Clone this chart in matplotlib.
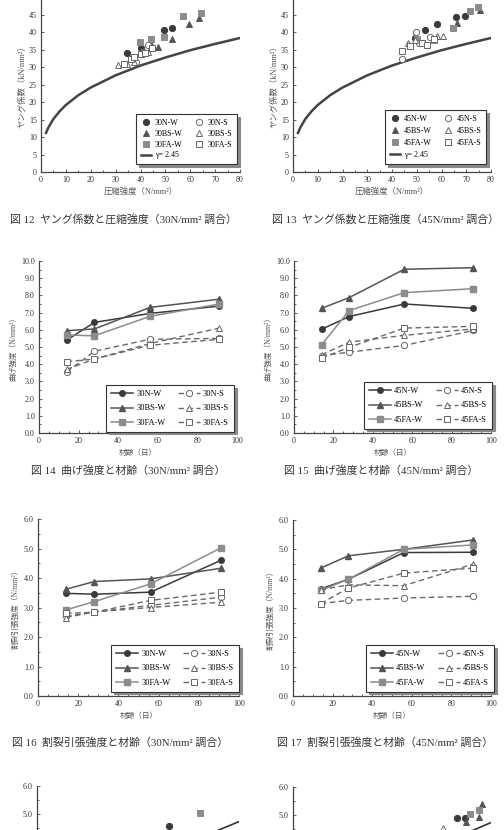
import matplotlib.pyplot as plt
from matplotlib.ticker import MultipleLocator, FormatStrFormatter
from matplotlib.lines import Line2D

plt.rcParams['font.family'] = ['Liberation Serif', 'Noto Sans CJK JP']

# fig 12 / 13 : young's modulus vs compressive strength
curve_fc = [2, 3, 5, 7.5, 10, 15, 20, 30, 40, 50, 60, 70, 80]
curve_E = [11.2, 12.8, 15.2, 17.4, 19.2, 22.0, 24.2, 27.7, 30.5, 32.8, 34.9, 36.7, 38.4]

e30_nw_x = [34.5, 40.0, 49.5, 52.5]
e30_nw_y = [34.0, 35.5, 40.8, 41.4]
e30_bsw_x = [44.0, 47.0, 52.5, 59.3, 63.5]
e30_bsw_y = [37.2, 35.8, 38.2, 42.4, 44.2]
e30_faw_x = [39.7, 44.3, 49.5, 57.0, 64.5]
e30_faw_y = [37.2, 38.2, 38.6, 44.8, 45.6]
e30_ns_x = [38.0, 41.0, 43.0, 44.5]
e30_ns_y = [31.5, 34.5, 36.5, 35.5]
e30_bss_x = [31.0, 34.5, 37.5, 43.0]
e30_bss_y = [30.8, 31.0, 31.5, 34.5]
e30_fas_x = [33.5, 36.0, 37.5, 40.0, 42.0, 44.5]
e30_fas_y = [31.0, 32.5, 33.0, 33.8, 34.0, 35.5]

e45_nw_x = [49.1, 53.4, 58.1, 66.0, 69.5]
e45_nw_y = [38.4, 40.6, 42.3, 44.4, 44.6]
e45_bsw_x = [49.5, 56.8, 66.2, 75.4]
e45_bsw_y = [38.0, 37.7, 42.7, 46.3]
e45_faw_x = [50.0, 56.8, 64.8, 71.5, 74.9]
e45_faw_y = [38.1, 37.7, 41.4, 46.0, 47.3]
e45_ns_x = [44.0, 49.8, 51.0, 55.4]
e45_ns_y = [32.4, 40.0, 37.0, 38.7]
e45_bss_x = [46.4, 49.1, 58.1, 60.8]
e45_bss_y = [37.0, 37.7, 39.1, 39.1]
e45_fas_x = [44.0, 47.4, 52.1, 54.1, 57.0]
e45_fas_y = [34.6, 36.2, 37.0, 36.4, 38.2]

# fig 14-17 : strength vs age
age = [14, 28, 56, 91]
b30_nw = [5.4, 6.43, 6.95, 7.38]
b30_bsw = [5.95, 6.05, 7.3, 7.78]
b30_faw = [5.7, 5.65, 6.78, 7.5]
b30_ns = [3.55, 4.75, 5.45, 5.5]
b30_bss = [3.7, 4.3, 5.2, 6.1]
b30_fas = [4.15, 4.3, 5.1, 5.45]

b45_nw = [6.03, 6.77, 7.5, 7.25]
b45_bsw = [7.25, 7.87, 9.52, 9.61]
b45_faw = [5.13, 7.12, 8.16, 8.39]
b45_ns = [4.5, 4.7, 5.09, 5.96]
b45_bss = [4.55, 5.28, 5.68, 6.05]
b45_fas = [4.35, 4.98, 6.1, 6.2]

t30_nw = [3.48, 3.45, 3.52, 4.6]
t30_bsw = [3.62, 3.88, 3.97, 4.33]
t30_faw = [2.92, 3.2, 3.8, 5.02]
t30_ns = [2.7, 2.85, 3.07, 3.35]
t30_bss = [2.66, 2.85, 3.0, 3.18]
t30_fas = [2.8, 2.84, 3.24, 3.52]

t45_nw = [3.65, 3.98, 4.89, 4.9]
t45_bsw = [4.36, 4.78, 5.0, 5.32]
t45_faw = [3.6, 3.98, 5.0, 5.15]
t45_ns = [3.15, 3.26, 3.34, 3.4]
t45_bss = [3.62, 3.79, 3.76, 4.5]
t45_fas = [3.15, 3.68, 4.19, 4.36]

# fig 18 / 19 : tensile vs compressive (only the top is on the page)
ft_line_x = [60, 70, 80]
ft_line_y = [3.95, 4.35, 4.73]
ft30_nw = ([52.3], [4.57])
ft30_faw = ([64.6], [5.03])
ft45_nw = ([66.3, 69.4], [4.88, 4.88])
ft45_bsw = ([69.9, 75.0, 76.4], [4.76, 4.94, 5.38])
ft45_faw = ([71.6, 75.3], [5.04, 5.18])
ft45_bss = ([60.5], [4.52])

captions = [
    (123, 219, '図 12  ヤング係数と圧縮強度（30N/mm² 調合）'),
    (385, 219, '図 13  ヤング係数と圧縮強度（45N/mm² 調合）'),
    (128, 471, '図 14  曲げ強度と材齢（30N/mm² 調合）'),
    (381, 471, '図 15  曲げ強度と材齢（45N/mm² 調合）'),
    (120, 743, '図 16  割裂引張強度と材齢（30N/mm² 調合）'),
    (385, 743, '図 17  割裂引張強度と材齢（45N/mm² 調合）'),
]

c_n = '#3a3a3a'
c_bs = '#555555'
c_fa = '#8c8c8c'
c_s = '#6a6a6a'

W, H = 504, 830
fig = plt.figure(figsize=(W / 100, H / 100), dpi=100)


def box(l, t, r, b):
    return [l / W, 1 - b / H, (r - l) / W, (b - t) / H]


def style(ax, xmax, xmaj, xmin, ymax, ymaj, ymin, fmt):
    ax.set_xlim(0, xmax)
    ax.set_ylim(0, ymax)
    ax.patch.set_alpha(0)
    for s in ['top', 'right']:
        ax.spines[s].set_visible(False)
    for s in ['left', 'bottom']:
        ax.spines[s].set_color('#444444')
        ax.spines[s].set_linewidth(0.9)
    ax.xaxis.set_major_locator(MultipleLocator(xmaj))
    ax.xaxis.set_minor_locator(MultipleLocator(xmin))
    ax.yaxis.set_major_locator(MultipleLocator(ymaj))
    ax.yaxis.set_minor_locator(MultipleLocator(ymin))
    ax.yaxis.set_major_formatter(FormatStrFormatter(fmt))
    ax.tick_params(which='both', direction='in', color='#444444', width=0.6,
                   labelsize=5.8, labelcolor='#333333', pad=3)
    ax.tick_params(which='major', length=2.5)
    ax.tick_params(which='minor', length=1.5)


def legend(ax, handles, x, y, lspace, hlen, cspace, fs):
    lg = ax.legend(handles=handles, ncol=2, loc='upper left',
                   bbox_to_anchor=(x / W, 1 - y / H), bbox_transform=fig.transFigure,
                   fontsize=fs, fancybox=False, shadow={'color': '#8a8a8a', 'alpha': 1},
                   borderpad=0.6, labelspacing=lspace, handlelength=hlen,
                   handletextpad=0.4, columnspacing=cspace, framealpha=1)
    lg.get_frame().set_edgecolor('#333333')
    lg.get_frame().set_linewidth(0.8)


def young(pos, tag, data):
    ax = fig.add_axes(box(*pos))
    style(ax, 80, 10, 5, 50, 5, 5, '%d')
    ax.plot(curve_fc, curve_E, color='#444444', lw=1.8)
    hs = []
    for (xs, ys), mk, fc, ec, lab in data:
        h, = ax.plot(xs, ys, ls='none', marker=mk, ms=4.5, mfc=fc, mec=ec, mew=0.7,
                     label=tag + lab)
        hs.append(h)
    curve = Line2D([], [], color='#444444', lw=1.8, label='γ= 2.45')
    ax.set_xlabel('圧縮強度（N/mm²）', fontsize=6, color='#555555', labelpad=2)
    ax.set_ylabel('ヤング係数（kN/mm²）', fontsize=6, color='#555555', labelpad=2)
    return ax, [hs[0], hs[1], hs[2], curve, hs[3], hs[4], hs[5]]


def ages(pos, tag, series, ymax, fmt, ylab):
    ax = fig.add_axes(box(*pos))
    style(ax, 100, 20, 5, ymax, 1, 0.5, fmt)
    hs = []
    for ys, mk, col, lab in series[:3]:
        h, = ax.plot(age, ys, color=col, lw=1.1, marker=mk, ms=4, mfc=col, mec=col,
                     label=tag + lab)
        hs.append(h)
    for ys, mk, col, lab in series[3:]:
        h, = ax.plot(age, ys, color=col, lw=1.0, ls=(0, (4, 2.5)), marker=mk, ms=4.5,
                     mfc='white', mec='#666666', mew=0.7, label=tag + lab)
        hs.append(h)
    ax.set_xlabel('材齢（日）', fontsize=5.5, color='#555555', labelpad=3)
    ax.set_ylabel(ylab, fontsize=5.5, color='#555555', labelpad=3)
    return ax, hs


ax, hs = young((41, -2.5, 240, 172), '30', [
    ((e30_nw_x, e30_nw_y), 'o', c_n, c_n, 'N-W'),
    ((e30_bsw_x, e30_bsw_y), '^', c_bs, c_bs, 'BS-W'),
    ((e30_faw_x, e30_faw_y), 's', c_fa, c_fa, 'FA-W'),
    ((e30_ns_x, e30_ns_y), 'o', 'white', '#666666', 'N-S'),
    ((e30_bss_x, e30_bss_y), '^', 'white', '#666666', 'BS-S'),
    ((e30_fas_x, e30_fas_y), 's', 'white', '#666666', 'FA-S'),
])
legend(ax, hs, 132, 110, 0.35, 1.3, 1.4, 5.8)

ax, hs = young((293, -2.5, 491, 172), '45', [
    ((e45_nw_x, e45_nw_y), 'o', c_n, c_n, 'N-W'),
    ((e45_bsw_x, e45_bsw_y), '^', c_bs, c_bs, 'BS-W'),
    ((e45_faw_x, e45_faw_y), 's', c_fa, c_fa, 'FA-W'),
    ((e45_ns_x, e45_ns_y), 'o', 'white', '#666666', 'N-S'),
    ((e45_bss_x, e45_bss_y), '^', 'white', '#666666', 'BS-S'),
    ((e45_fas_x, e45_fas_y), 's', 'white', '#666666', 'FA-S'),
])
legend(ax, hs, 381, 106, 0.5, 1.3, 1.4, 5.8)

lspec = dict(lspace=0.75, hlen=2.6, cspace=1.5, fs=6)

ax, hs = ages((39, 261, 237, 433), '30', [
    (b30_nw, 'o', c_n, 'N-W'), (b30_bsw, '^', c_bs, 'BS-W'), (b30_faw, 's', c_fa, 'FA-W'),
    (b30_ns, 'o', c_s, 'N-S'), (b30_bss, '^', c_s, 'BS-S'), (b30_fas, 's', c_s, 'FA-S'),
], 10, '%.1f', '曲げ強度（N/mm²）')
legend(ax, hs, 102, 381, **lspec)

ax, hs = ages((294, 261, 491, 433), '45', [
    (b45_nw, 'o', c_n, 'N-W'), (b45_bsw, '^', c_bs, 'BS-W'), (b45_faw, 's', c_fa, 'FA-W'),
    (b45_ns, 'o', c_s, 'N-S'), (b45_bss, '^', c_s, 'BS-S'), (b45_fas, 's', c_s, 'FA-S'),
], 10, '%.1f', '曲げ強度（N/mm²）')
legend(ax, hs, 360, 378, **lspec)

ax, hs = ages((38, 519, 239, 696), '30', [
    (t30_nw, 'o', c_n, 'N-W'), (t30_bsw, '^', c_bs, 'BS-W'), (t30_faw, 's', c_fa, 'FA-W'),
    (t30_ns, 'o', c_s, 'N-S'), (t30_bss, '^', c_s, 'BS-S'), (t30_fas, 's', c_s, 'FA-S'),
], 6, '%.1f', '割裂引張強度（N/mm²）')
legend(ax, hs, 107, 641, **lspec)

ax, hs = ages((293, 520, 491, 696), '45', [
    (t45_nw, 'o', c_n, 'N-W'), (t45_bsw, '^', c_bs, 'BS-W'), (t45_faw, 's', c_fa, 'FA-W'),
    (t45_ns, 'o', c_s, 'N-S'), (t45_bss, '^', c_s, 'BS-S'), (t45_fas, 's', c_s, 'FA-S'),
], 6, '%.1f', '割裂引張強度（N/mm²）')
legend(ax, hs, 362, 641, **lspec)

# bottom row, cut by the page edge
for pos, pts in [((37, 786, 239, 954), [(ft30_nw, 'o', c_n, c_n), (ft30_faw, 's', c_fa, c_fa)]),
                 ((293, 787, 491, 955), [(ft45_nw, 'o', c_n, c_n), (ft45_bsw, '^', c_bs, c_bs),
                                         (ft45_faw, 's', c_fa, c_fa),
                                         (ft45_bss, '^', 'white', '#666666')])]:
    ax = fig.add_axes(box(*pos))
    style(ax, 80, 10, 5, 6, 1, 0.5, '%.1f')
    ax.plot(ft_line_x, ft_line_y, color='#333333', lw=1.2)
    for (xs, ys), mk, fc, ec in pts:
        ax.plot(xs, ys, ls='none', marker=mk, ms=4.5, mfc=fc, mec=ec, mew=0.7)

for x, y, s in captions:
    fig.text(x / W, 1 - y / H, s, ha='center', va='center', fontsize=7.8, color='#333333')

fig.savefig('out.png', dpi=100)
